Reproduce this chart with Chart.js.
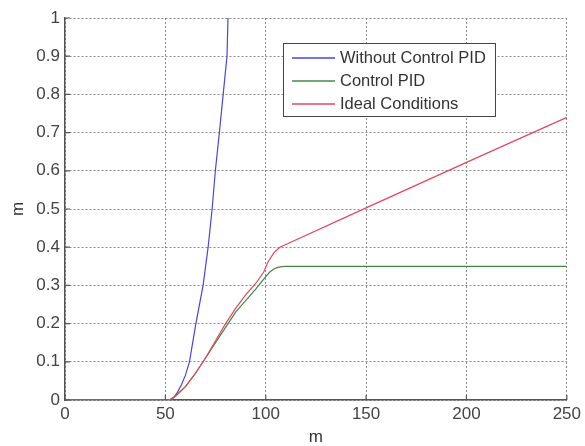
<!DOCTYPE html>
<html>
<head>
<meta charset="utf-8">
<script src="https://cdn.jsdelivr.net/npm/chart.js@4/dist/chart.umd.min.js"></script>
<style>
  html, body { margin: 0; padding: 0; background: #fff; }
  #wrap { width: 585px; height: 446px; }
</style>
</head>
<body>
<div id="wrap"><canvas id="c" width="585" height="446"></canvas></div>
<script>
// ---- data ----
const seriesNames = ['Without Control PID', 'Control PID', 'Ideal Conditions'];

const blueX = [0, 52, 54, 56, 58, 60, 62, 65.2, 68.8, 71.3, 73.3, 74.9, 76.9, 78.8, 80.7, 81.2];
const blueY = [0, 0, 0.005, 0.02, 0.04, 0.065, 0.1, 0.2, 0.3, 0.4, 0.5, 0.6, 0.7, 0.8, 0.9, 1.0];

const greenX = [0, 52, 55, 60, 65, 70, 75, 80, 85, 90, 95, 98, 100, 102, 104, 106, 108, 110, 120, 250];
const greenY = [0, 0, 0.01, 0.035, 0.07, 0.11, 0.15, 0.19, 0.23, 0.26, 0.29, 0.31, 0.323, 0.335, 0.343, 0.347, 0.349, 0.35, 0.35, 0.35];

const redX = [0, 52, 55, 60, 65, 70, 75, 80, 85, 90, 95, 99, 101, 104, 107, 110, 150, 200, 250];
const redY = [0, 0, 0.01, 0.035, 0.07, 0.11, 0.155, 0.2, 0.24, 0.275, 0.305, 0.335, 0.36, 0.385, 0.4, 0.407, 0.503, 0.622, 0.74];

const xTickValues = [0, 50, 100, 150, 200, 250];
const xTickLabels = ['0', '50', '100', '150', '200', '250'];
const yTickValues = [0, 0.1, 0.2, 0.3, 0.4, 0.5, 0.6, 0.7, 0.8, 0.9, 1];
const yTickLabels = ['0', '0.1', '0.2', '0.3', '0.4', '0.5', '0.6', '0.7', '0.8', '0.9', '1'];
const xTitle = 'm';
const yTitle = 'm';

const toPts = (xs, ys) => xs.map((x, i) => ({ x: x, y: ys[i] }));
const FONT = '"Liberation Sans", Arial, sans-serif';

const legendPlugin = {
  id: 'boxLegend',
  afterDraw(chart) {
    const ctx = chart.ctx;
    const x0 = 283, y0 = 43, w = 212, h = 73;
    ctx.save();
    ctx.fillStyle = '#fff';
    ctx.fillRect(x0, y0, w, h);
    ctx.strokeStyle = '#444';
    ctx.lineWidth = 1;
    ctx.strokeRect(x0 + 0.5, y0 + 0.5, w, h);
    ctx.font = '16.5px ' + FONT;
    ctx.textBaseline = 'middle';
    ctx.fillStyle = '#333';
    chart.data.datasets.forEach((ds, i) => {
      const y = y0 + 15 + i * 23;
      ctx.strokeStyle = ds.borderColor;
      ctx.lineWidth = 1.3;
      ctx.beginPath();
      ctx.moveTo(292, y);
      ctx.lineTo(335, y);
      ctx.stroke();
      ctx.fillText(ds.label, 340, y);
    });
    ctx.restore();
  }
};

const tickMarks = {
  id: 'tickMarks',
  afterDatasetsDraw(chart) {
    const ctx = chart.ctx;
    const xs = chart.scales.x, ys = chart.scales.y;
    const a = chart.chartArea;
    ctx.save();
    ctx.strokeStyle = '#555';
    ctx.lineWidth = 1.2;
    ctx.beginPath();
    xTickValues.forEach(v => {
      const px = xs.getPixelForValue(v);
      ctx.moveTo(px, a.bottom);
      ctx.lineTo(px, a.bottom - 5);
    });
    yTickValues.forEach(v => {
      const py = ys.getPixelForValue(v);
      ctx.moveTo(a.left, py);
      ctx.lineTo(a.left + 5, py);
    });
    ctx.stroke();
    ctx.restore();
  }
};

new Chart(document.getElementById('c'), {
  type: 'line',
  data: {
    datasets: [
      { label: seriesNames[0], data: toPts(blueX, blueY), borderColor: 'rgb(70,70,225)', borderWidth: 1.2, pointRadius: 0, tension: 0, order: 2 },
      { label: seriesNames[1], data: toPts(greenX, greenY), borderColor: 'rgb(70,135,70)', borderWidth: 1.2, pointRadius: 0, tension: 0, order: 1 },
      { label: seriesNames[2], data: toPts(redX, redY), borderColor: 'rgb(228,70,95)', borderWidth: 1.2, pointRadius: 0, tension: 0, order: 0 }
    ]
  },
  options: {
    responsive: false,
    animation: false,
    events: [],
    layout: { autoPadding: false, padding: { left: 0, right: 14, top: 18, bottom: 0 } },
    plugins: { legend: { display: false }, tooltip: { enabled: false } },
    scales: {
      x: {
        type: 'linear', min: 0, max: 250,
        afterFit(s) { s.height = 46; },
        afterBuildTicks(s) { s.ticks = xTickValues.map(v => ({ value: v })); },
        ticks: {
          padding: 4,
          color: '#444',
          font: { family: FONT, size: 17 },
          maxRotation: 0,
          callback: (v) => { const i = xTickValues.indexOf(v); return i >= 0 ? xTickLabels[i] : ''; }
        },
        grid: { color: '#8a8a8a', lineWidth: 1, drawTicks: false },
        border: { display: true, color: '#555', width: 1.5, dash: [2, 2] },
        title: { display: true, text: xTitle, color: '#333', font: { family: FONT, size: 17, lineHeight: 1 }, padding: { top: 0, bottom: 0 } }
      },
      y: {
        type: 'linear', min: 0, max: 1,
        afterFit(s) { s.width = 65; },
        afterBuildTicks(s) { s.ticks = yTickValues.map(v => ({ value: v })); },
        ticks: {
          padding: 5,
          color: '#444',
          font: { family: FONT, size: 17 },
          callback: (v) => { const i = yTickValues.findIndex(t => Math.abs(t - v) < 1e-9); return i >= 0 ? yTickLabels[i] : ''; }
        },
        grid: { color: '#8a8a8a', lineWidth: 1, drawTicks: false },
        border: { display: true, color: '#555', width: 1.5, dash: [2, 2] },
        title: { display: true, text: yTitle, color: '#333', font: { family: FONT, size: 17, lineHeight: 1 }, padding: { top: 10, bottom: 0 } }
      }
    }
  },
  plugins: [tickMarks, legendPlugin]
});
</script>
</body>
</html>
